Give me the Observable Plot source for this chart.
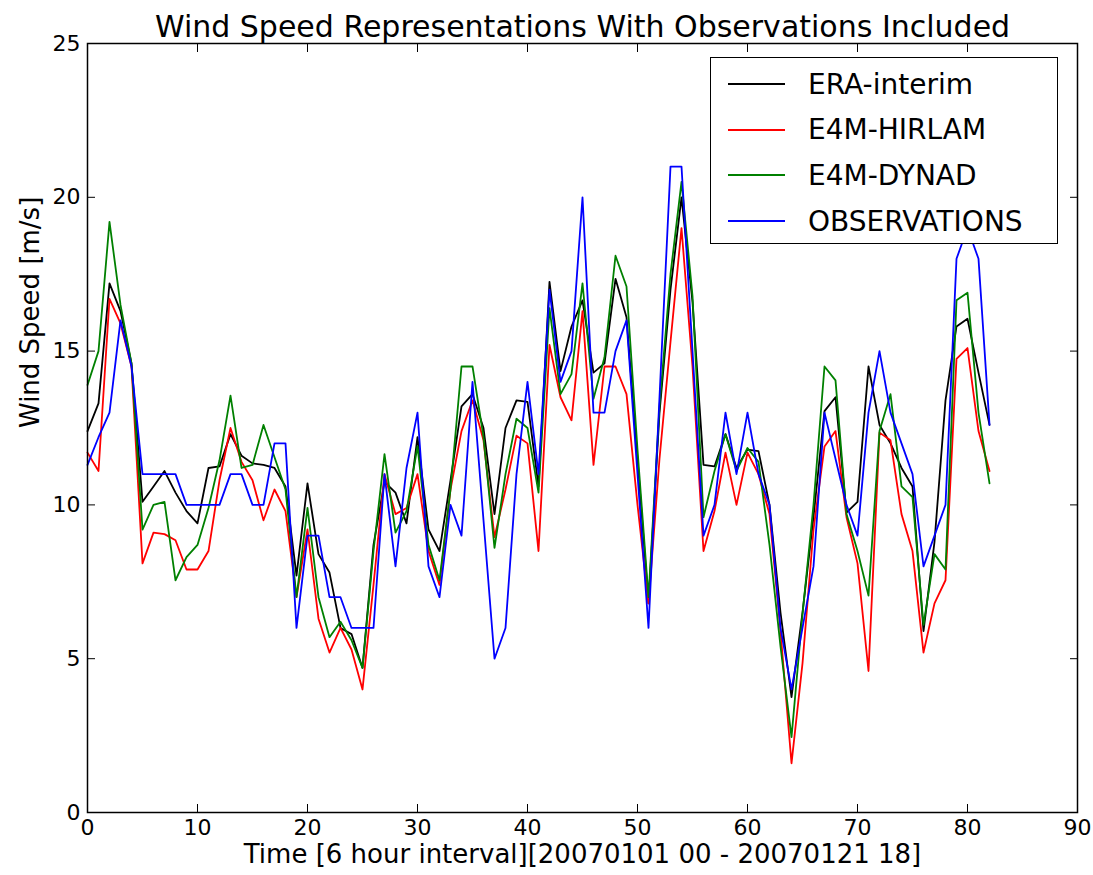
<!DOCTYPE html>
<html><head><meta charset="utf-8">
<script src="https://cdn.jsdelivr.net/npm/d3@7"></script>
<script src="https://cdn.jsdelivr.net/npm/@observablehq/plot@0.6"></script>
<style>
html,body{margin:0;padding:0;background:#fff}
#wrap{position:relative;width:1093px;height:875px;font-family:"DejaVu Sans",sans-serif}
#wrap svg.plot{position:absolute;left:0;top:0}
#legend{position:absolute;left:710px;top:57px;width:348px;height:187px;background:#fff;border:1.5px solid #000;box-sizing:border-box}
#legend .row{position:absolute;left:0;height:30px;display:flex;align-items:center}
#legend .row svg{margin-left:17px;margin-right:23px}
#legend .row span{font-size:28px;color:#000;white-space:nowrap}
</style></head><body><div id="wrap"></div>
<script>
const title = "Wind Speed Representations With Observations Included";
const xLabel = "Time [6 hour interval][20070101 00 - 20070121 18]";
const yLabel = "Wind Speed [m/s]";
const seriesNames = ["ERA-interim", "E4M-HIRLAM", "E4M-DYNAD", "OBSERVATIONS"];
const seriesColors = ["#000000", "#ff0000", "#008000", "#0000ff"];
const xTicks = [0, 10, 20, 30, 40, 50, 60, 70, 80, 90];
const yTicks = [0, 5, 10, 15, 20, 25];

const eraInterim = [12.4, 13.3, 17.2, 16.3, 14.6, 10.1, 10.6, 11.1, 10.4, 9.8,
  9.4, 11.2, 11.25, 12.3, 11.6, 11.35, 11.3, 11.2, 10.6, 7.7,
  10.7, 8.4, 7.8, 6.0, 5.8, 4.7, 8.7, 10.75, 10.4, 9.4,
  12.2, 9.2, 8.5, 10.8, 13.2, 13.6, 12.5, 9.7, 12.5, 13.4,
  13.35, 10.6, 17.25, 14.35, 15.8, 16.65, 14.3, 14.6, 17.35, 16.1,
  11.5, 6.8, 13.0, 17.0, 20.0, 16.6, 11.3, 11.25, 12.3, 11.2,
  11.8, 11.75, 10.0, 6.5, 3.75, 6.5, 9.6, 13.05, 13.5, 9.75,
  10.1, 14.5, 12.6, 12.0, 11.2, 10.6, 5.9, 8.8, 13.4, 15.8,
  16.05, 14.3, 12.6];
const e4mHirlam = [11.7, 11.1, 16.7, 15.9, 14.5, 8.1, 9.1, 9.05, 8.85, 7.9,
  7.9, 8.5, 10.8, 12.5, 11.4, 10.8, 9.5, 10.5, 9.8, 7.0,
  9.2, 6.3, 5.2, 6.0, 5.3, 4.0, 7.4, 11.0, 9.7, 9.9,
  11.0, 8.5, 7.4, 10.5, 12.4, 13.4, 12.1, 8.95, 10.5, 12.25,
  12.0, 8.5, 15.2, 13.5, 12.75, 16.3, 11.3, 14.5, 14.5, 13.6,
  10.0, 6.8, 11.5, 15.3, 19.0, 14.5, 8.5, 9.8, 11.7, 10.0,
  11.7, 11.0, 9.7, 5.9, 1.6, 4.85, 9.2, 11.9, 12.4, 9.6,
  8.1, 4.6, 12.35, 12.1, 9.7, 8.5, 5.2, 6.8, 7.55, 14.75,
  15.1, 12.4, 11.1];
const e4mDynad = [13.9, 15.0, 19.2, 16.5, 14.6, 9.2, 10.0, 10.1, 7.55, 8.3,
  8.7, 9.9, 11.45, 13.55, 11.2, 11.3, 12.6, 11.55, 10.5, 7.0,
  9.9, 7.0, 5.7, 6.2, 5.6, 4.7, 8.5, 11.65, 9.1, 9.8,
  11.9, 8.7, 7.55, 10.5, 14.5, 14.5, 12.2, 8.6, 11.0, 12.8,
  12.5, 10.4, 16.4, 13.6, 14.25, 17.2, 13.45, 14.8, 18.1, 17.1,
  11.8, 7.0, 13.2, 17.5, 20.5, 16.8, 9.6, 11.1, 12.3, 11.1,
  11.85, 11.4, 8.7, 5.4, 2.45, 6.45, 10.0, 14.5, 14.05, 9.7,
  8.5, 7.05, 12.4, 13.6, 10.6, 10.25, 6.1, 8.4, 7.9, 16.65,
  16.9, 13.0, 10.7];
const observations = [11.3, 12.2, 13.0, 16.0, 14.5, 11, 11, 11, 11, 10,
  10, 10, 10, 11, 11, 10, 10, 12, 12, 6,
  9, 9, 7, 7, 6, 6, 6, 11, 8, 11.2,
  13, 8, 7, 10, 9, 14, 9.5, 5, 6, 11,
  14, 11, 17, 14, 15, 20, 13, 13, 15, 16,
  11, 6, 13.5, 21, 21, 15, 9, 10, 13, 11,
  13, 11, 10, 6, 4, 6, 8, 13, 11.5, 10,
  9, 13, 15, 13, 12, 11, 8, 9, 10, 18,
  19, 18, 12.6];

const seriesValues = [eraInterim, e4mHirlam, e4mDynad, observations];
const rows = seriesValues.flatMap((vals, s) => vals.map((v, i) => ({t: i, v, series: seriesNames[s]})));

const font = "DejaVu Sans";
const chart = Plot.plot({
  width: 1093,
  height: 875,
  marginLeft: 87,
  marginRight: 16,
  marginTop: 43,
  marginBottom: 63,
  style: {fontFamily: font, background: "#fff", color: "#000", overflow: "visible"},
  x: {domain: [0, 90], label: null},
  y: {domain: [0, 25], label: null},
  color: {domain: seriesNames, range: seriesColors},
  marks: [
    Plot.line(rows, {x: "t", y: "v", z: "series", stroke: "series", strokeWidth: 1.8}),
    Plot.frame({stroke: "#000", strokeWidth: 1.5}),
    Plot.axisX(xTicks, {anchor: "bottom", tickSize: -8, tickFormat: () => "", label: null, strokeWidth: 1}),
    Plot.axisX(xTicks, {anchor: "top", tickSize: -8, tickFormat: () => "", label: null, strokeWidth: 1}),
    Plot.axisY(yTicks, {anchor: "left", tickSize: -8, tickFormat: () => "", label: null, strokeWidth: 1}),
    Plot.axisY(yTicks, {anchor: "right", tickSize: -8, tickFormat: () => "", label: null, strokeWidth: 1}),
    Plot.axisX(xTicks, {anchor: "bottom", tickSize: 0, tickPadding: 7, fontSize: 22, label: null}),
    Plot.axisY(yTicks, {anchor: "left", tickSize: 0, tickPadding: 7, fontSize: 22, label: null}),
    Plot.text([title], {frameAnchor: "top", dy: -28, fontSize: 30, fill: "#000"}),
    Plot.text([xLabel], {frameAnchor: "bottom", dy: 50, fontSize: 26, fill: "#000"}),
    Plot.text([yLabel], {frameAnchor: "left", rotate: -90, dx: -57, fontSize: 26, fill: "#000"})
  ]
});
const wrap = document.getElementById("wrap");
wrap.appendChild(chart);

const legend = document.createElement("div");
legend.id = "legend";
seriesNames.forEach((name, i) => {
  const row = document.createElement("div");
  row.className = "row";
  row.style.top = (11 + i * 45.7) + "px";
  row.innerHTML = `<svg width="57" height="4"><line x1="0" y1="2" x2="57" y2="2" stroke="${seriesColors[i]}" stroke-width="1.8"/></svg><span>${name}</span>`;
  legend.appendChild(row);
});
wrap.appendChild(legend);
</script>
</body></html>
